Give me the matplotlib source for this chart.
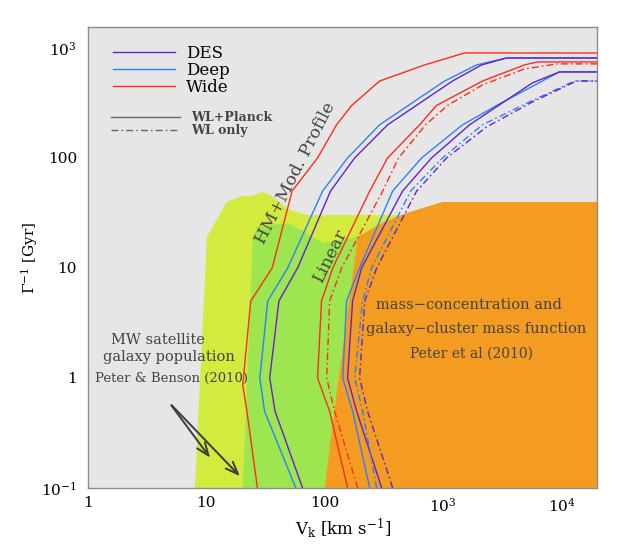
import matplotlib
matplotlib.use("Agg")
import matplotlib.pyplot as plt
from matplotlib.lines import Line2D

plt.rcParams['font.family'] = ['DejaVu Serif']
plt.rcParams['mathtext.fontset'] = 'dejavuserif'

# shaded regions: V_k [km/s] vs 1/Gamma [Gyr]
mw_v = [8.0, 10.1, 14.9, 19.9, 24.2, 30.0, 34.3, 50.7, 70.5, 630, 630]
mw_t = [0.1, 19.1, 39.8, 45.1, 45.1, 49.1, 46.1, 33.7, 30.3, 30.3, 0.1]
hm_v = [20.3, 24.7, 27.2, 47.8, 70.5, 96, 139, 190, 126, 100]
hm_t = [0.1, 19.1, 23.6, 25.6, 20.8, 16.9, 18.0, 19.1, 0.73, 0.1]
mc_v = [100, 126, 190, 291, 492, 990, 2e4, 2e4]
mc_t = [0.1, 0.73, 19.1, 25.1, 31.6, 39.8, 39.8, 0.1]

# HM + modified profile, WL+Planck
hm_wide_v = [27, 22, 20.3, 23.7, 36, 53, 87, 126, 169, 291, 698, 1520, 2e4]
hm_wide_t = [0.1, 0.5, 0.86, 5, 10, 50, 100, 200, 300, 500, 700, 900, 900]
hm_deep_v = [57, 31, 28.3, 33, 48.7, 96, 156, 291, 1030, 1918, 3435, 2e4]
hm_deep_t = [0.1, 0.5, 1, 5, 10, 50, 100, 200, 500, 700, 810, 810]
hm_des_v = [65, 38, 34.3, 41, 59, 112, 179, 340, 1202, 2113, 3435, 2e4]
hm_des_t = [0.1, 0.5, 1, 5, 10, 50, 100, 200, 500, 700, 810, 810]

# linear, WL+Planck
lin_wide_v = [156, 110, 87, 94, 117, 240, 340, 634, 881, 2154, 4870, 6270, 2e4]
lin_wide_t = [0.1, 0.5, 1, 5, 10, 50, 100, 200, 300, 500, 700, 746, 746]
lin_deep_v = [240, 172, 142, 153, 197, 375, 659, 1461, 3000, 9620, 2e4]
lin_deep_t = [0.1, 0.5, 1, 5, 10, 50, 100, 200, 310, 605, 605]
lin_des_v = [303, 186, 156, 172, 205, 455, 800, 1674, 5690, 9620, 2e4]
lin_des_t = [0.1, 0.5, 1, 5, 10, 50, 100, 200, 481, 605, 605]

# linear, WL only
wl_wide_v = [190, 121, 104, 110, 139, 309, 421, 712, 1091, 2154, 4870, 9250, 2e4]
wl_wide_t = [0.1, 0.5, 1, 5, 10, 50, 100, 200, 300, 461, 644, 716, 716]
wl_deep_v = [275, 209, 179, 209, 249, 532, 990, 2154, 5370, 12880, 2e4]
wl_deep_t = [0.1, 0.5, 1, 5, 10, 50, 100, 200, 323, 500, 500]
wl_des_v = [375, 230, 197, 218, 275, 598, 1071, 2329, 5690, 13390, 2e4]
wl_des_t = [0.1, 0.5, 1, 5, 10, 50, 100, 191, 323, 500, 500]

xticks = [1, 10, 100, 1e3, 1e4]
xticklabels = ['1', '10', '100', r'$10^3$', r'$10^4$']
yticks = [0.1, 1, 10, 100, 1e3]
yticklabels = [r'$10^{-1}$', '1', '10', '100', r'$10^3$']

c_red = '#ff2b1c'
c_blue = '#2a80ff'
c_purple = '#6422c8'
txt = '#444444'
dd = (0, (5, 2.2, 1.2, 2.2))

fig = plt.figure(figsize=(6.23, 5.45), dpi=100)
ax = fig.add_axes([0.1413, 0.1046, 0.817, 0.8459])
ax.set_facecolor('#e6e6e6')
ax.set_xscale('log')
ax.set_yscale('log')
ax.set_xlim(1, 2e4)
ax.set_ylim(0.1, 1550)

ax.fill(mw_v, mw_t, color='#d3ea3f', lw=0, zorder=1)
ax.fill(hm_v, hm_t, color='#9de650', lw=0, zorder=2)
ax.fill(mc_v, mc_t, color='#f39c21', lw=0, zorder=3)

for v, t, c in [(hm_wide_v, hm_wide_t, c_red), (hm_deep_v, hm_deep_t, c_blue),
                (hm_des_v, hm_des_t, c_purple), (lin_wide_v, lin_wide_t, c_red),
                (lin_deep_v, lin_deep_t, c_blue), (lin_des_v, lin_des_t, c_purple)]:
    ax.plot(v, t, color=c, lw=1.0, zorder=4)
for v, t, c in [(wl_wide_v, wl_wide_t, c_red), (wl_deep_v, wl_deep_t, c_blue),
                (wl_des_v, wl_des_t, c_purple)]:
    ax.plot(v, t, color=c, lw=1.0, ls=dd, zorder=4)

ax.set_xticks(xticks)
ax.set_xticklabels(xticklabels)
ax.set_yticks(yticks)
ax.set_yticklabels(yticklabels)
ax.minorticks_off()
ax.tick_params(length=0, labelsize=11, pad=8)
ax.tick_params(axis='x', pad=6)
for s in ax.spines.values():
    s.set_color('#8c8c8c')
    s.set_linewidth(1.0)
    s.set_zorder(6)

ax.set_xlabel(r'V$_{\rm k}$ [km s$^{-1}$]', fontsize=12)
ax.set_ylabel(r'$\Gamma^{-1}$ [Gyr]', fontsize=11)
ax.xaxis.set_label_coords(0.5, -0.06)
ax.yaxis.set_label_coords(-0.095, 0.5)

# legends
h1 = [Line2D([], [], color=c, lw=1.0) for c in (c_purple, c_blue, c_red)]
leg1 = ax.legend(h1, ['DES', 'Deep', 'Wide'], loc='upper left',
                 bbox_to_anchor=(0.036, 0.975), frameon=False, fontsize=12,
                 handlelength=3.7, handletextpad=0.7, labelspacing=0.0,
                 borderaxespad=0)
ax.add_artist(leg1)
h2 = [Line2D([], [], color='#666666', lw=1.0),
      Line2D([], [], color='#666666', lw=1.0, ls=dd)]
ax.legend(h2, ['WL+Planck', 'WL only'], loc='upper left',
          bbox_to_anchor=(0.036, 0.828), frameon=False,
          prop={'size': 9, 'weight': 'bold'},
          handlelength=5.5, handletextpad=0.9, labelspacing=0.0,
          borderaxespad=0, labelcolor=txt)

ax.text(57, 72, 'HM+Mod. Profile', rotation=63, fontsize=12.5, color=txt,
        ha='center', va='center', zorder=5)
ax.text(112, 13, 'Linear', rotation=64, fontsize=12.5, color=txt,
        ha='center', va='center', zorder=5)

ax.text(3.9, 2.2, 'MW satellite', fontsize=10.5, color=txt, ha='center',
        va='center', zorder=5)
ax.text(4.8, 1.55, 'galaxy population', fontsize=10.5, color=txt, ha='center',
        va='center', zorder=5)
ax.text(5.1, 1.0, 'Peter & Benson (2010)', fontsize=9.5, color=txt,
        ha='center', va='center', zorder=5)

ax.text(1650, 4.6, 'mass\u2212concentration and', fontsize=10.5, color=txt,
        ha='center', va='center', zorder=5)
ax.text(1900, 2.8, 'galaxy\u2212cluster mass function', fontsize=10.5,
        color=txt, ha='center', va='center', zorder=5)
ax.text(1750, 1.65, 'Peter et al (2010)', fontsize=10, color=txt,
        ha='center', va='center', zorder=5)

arrow = dict(arrowstyle='->,head_length=0.9,head_width=0.35', color='#3c3c3c',
             lw=1.4)
ax.annotate('', xy=(11.1, 0.18), xytext=(4.9, 0.59), arrowprops=arrow,
            zorder=5)
ax.annotate('', xy=(19.9, 0.123), xytext=(4.9, 0.59), arrowprops=arrow,
            zorder=5)

fig.savefig('out.png', dpi=100)
